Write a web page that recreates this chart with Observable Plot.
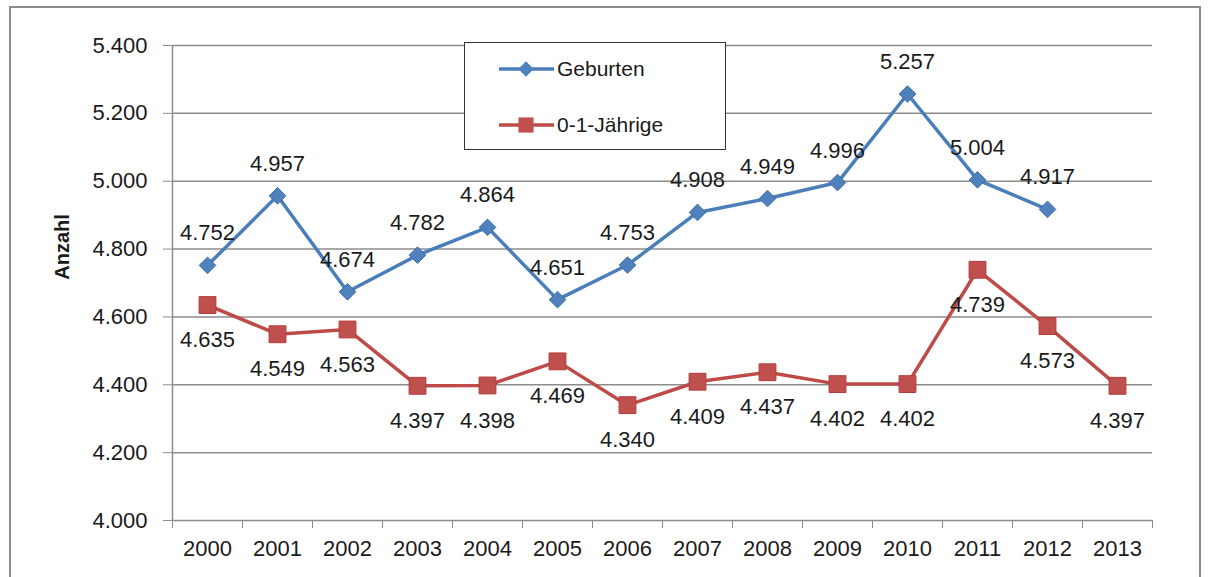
<!DOCTYPE html>
<html><head><meta charset="utf-8">
<script src="https://cdn.jsdelivr.net/npm/d3@7"></script>
<script src="https://cdn.jsdelivr.net/npm/@observablehq/plot@0.6"></script>
<style>
body{margin:0;background:#fff;}
#wrap{position:relative;width:1210px;height:577px;overflow:hidden;font-family:"Liberation Sans",Arial,sans-serif;color:#1a1a1a;}
#frame{position:absolute;left:9px;top:6px;width:1192px;height:600px;border:2px solid #8c8c8c;box-sizing:border-box;}
#chart{position:absolute;left:0;top:0;}
#legend{position:absolute;left:464px;top:42px;width:262px;height:108px;border:1.5px solid #333;background:#fff;box-sizing:border-box;}
#ylab{position:absolute;left:62px;top:247px;transform:translate(-50%,-50%) rotate(-90deg);font-weight:bold;font-size:20px;white-space:nowrap;}
</style></head>
<body>
<div id="wrap">
  <div id="frame"></div>
  <div id="chart"></div>
  <div id="ylab">Anzahl</div>
  <div id="legend"></div>
</div>
<script>
const years = [2000,2001,2002,2003,2004,2005,2006,2007,2008,2009,2010,2011,2012,2013];
const geburtenYears = [2000,2001,2002,2003,2004,2005,2006,2007,2008,2009,2010,2011,2012];
const geburten = [4752,4957,4674,4782,4864,4651,4753,4908,4949,4996,5257,5004,4917];
const jaehrige = [4635,4549,4563,4397,4398,4469,4340,4409,4437,4402,4402,4739,4573,4397];
const yTicks = [4000,4200,4400,4600,4800,5000,5200,5400];
const seriesNames = ["Geburten","0-1-Jährige"];
const blueLine = "#4a7ebb", blueFill = "#4f81bd";
const redLine = "#be4b48", redFill = "#c0504d";

const de = d3.formatLocale({decimal:",", thousands:".", grouping:[3], currency:["","€"]});
const fmt = de.format(",d");

const gData = geburtenYears.map((y,i)=>({year:y, value:geburten[i]}));
const jData = years.map((y,i)=>({year:y, value:jaehrige[i]}));
const bounds = [years[0]-0.5, ...years.map(y=>y+0.5)];

const chart = Plot.plot({
  width:1210, height:577,
  marginLeft:172, marginRight:58, marginTop:45, marginBottom:57,
  style:{fontFamily:'"Liberation Sans", Arial, sans-serif', fontSize:"22px", color:"#1a1a1a", background:"transparent"},
  x:{type:"linear", domain:[years[0]-0.5, years[years.length-1]+0.5]},
  y:{domain:[yTicks[0], yTicks[yTicks.length-1]]},
  marks:[
    Plot.gridY(yTicks, {stroke:"#8c8c8c", strokeOpacity:1, strokeWidth:1.5}),
    Plot.ruleX([bounds[0]], {y1:yTicks[0], y2:yTicks[yTicks.length-1], stroke:"#8c8c8c", strokeWidth:1.5}),
    Plot.axisY({ticks:yTicks, tickFormat:fmt, tickSize:9, tickPadding:16, stroke:"#8c8c8c", label:null, fontSize:"22px"}),
    Plot.axisX({ticks:bounds, tickFormat:()=> "", tickSize:8, stroke:"#8c8c8c", label:null}),
    Plot.axisX({ticks:years, tickFormat:d=>String(d), tickSize:0, tickPadding:20, label:null, fontSize:"22px"}),
    Plot.line(jData, {x:"year", y:"value", stroke:redLine, strokeWidth:3.5}),
    Plot.dot(jData, {x:"year", y:"value", symbol:"square", r:9.5, fill:redFill, stroke:"#b03c3a", strokeWidth:1}),
    Plot.line(gData, {x:"year", y:"value", stroke:blueLine, strokeWidth:3.5}),
    Plot.dot(gData, {x:"year", y:"value", symbol:"diamond2", r:7.5, fill:blueFill, stroke:"#3f6fa8", strokeWidth:1}),
    Plot.text(gData, {x:"year", y:"value", text:d=>fmt(d.value), dy:-32, fill:"#1a1a1a", fontSize:22}),
    Plot.text(jData, {x:"year", y:"value", text:d=>fmt(d.value), dy:35, fill:"#1a1a1a", fontSize:22})
  ]
});
document.getElementById("chart").appendChild(chart);

// legend
const lg = d3.select("#legend").append("svg").attr("width",260).attr("height",105)
  .style("font-family",'"Liberation Sans", Arial, sans-serif');
const items = [
  {name:seriesNames[0], line:blueLine, fill:blueFill, sym:"diamond", y:26},
  {name:seriesNames[1], line:redLine, fill:redFill, sym:"square", y:82}
];
items.forEach(it=>{
  lg.append("line").attr("x1",34).attr("x2",89).attr("y1",it.y).attr("y2",it.y)
    .attr("stroke",it.line).attr("stroke-width",3.5);
  const s = it.sym==="diamond" ? d3.symbol(d3.symbolDiamond2, 150) : d3.symbol(d3.symbolSquare, 230);
  lg.append("path").attr("d",s()).attr("transform",`translate(61,${it.y})`).attr("fill",it.fill);
  lg.append("text").attr("x",92).attr("y",it.y).attr("dy","0.35em").attr("font-size",21)
    .attr("fill","#1a1a1a").text(it.name);
});
</script>
</body></html>
